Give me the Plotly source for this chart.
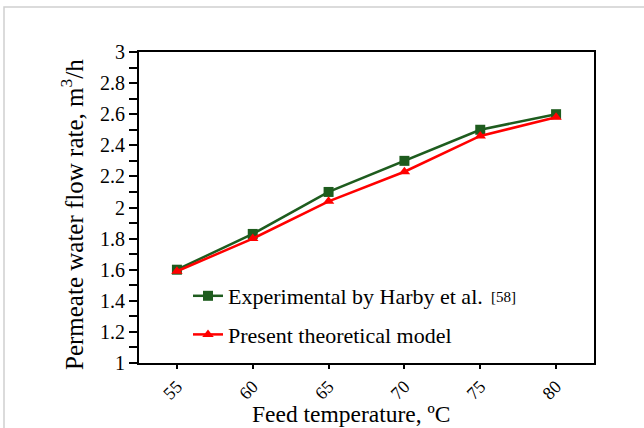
import plotly.graph_objects as go

temps = [55, 60, 65, 70, 75, 80]
experimental = [1.60, 1.83, 2.10, 2.30, 2.50, 2.60]
theoretical = [1.59, 1.80, 2.04, 2.23, 2.46, 2.58]
y_ticks = [1, 1.2, 1.4, 1.6, 1.8, 2, 2.2, 2.4, 2.6, 2.8, 3]

W, H = 644, 428
L, R, T, B = 139, 50, 52, 65
pw, ph = W - L - R, H - T - B


def px(x):
    return (x - L) / pw


def py(y):
    return (H - B - y) / ph


font = "Liberation Serif, Times New Roman, serif"

fig = go.Figure()
fig.add_trace(go.Scatter(
    x=temps, y=experimental, mode="lines+markers",
    name="Experimental by Harby et al.", legendgroup="a",
    line=dict(color="#1e5c1e", width=2.5),
    marker=dict(symbol="square", size=10, color="#1e5c1e"),
))
fig.add_trace(go.Scatter(
    x=temps, y=theoretical, mode="lines+markers",
    name="Present theoretical model", legendgroup="b",
    line=dict(color="#ff0000", width=2.5),
    marker=dict(symbol="triangle-up", size=10, color="#ff0000"),
))

fig.update_layout(
    width=W, height=H,
    margin=dict(l=L, r=R, t=T, b=B),
    paper_bgcolor="white", plot_bgcolor="white",
    font=dict(family=font, color="black", size=16),
    showlegend=True,
    legend=dict(x=px(188), y=py(275), xanchor="left", yanchor="top",
                bgcolor="rgba(0,0,0,0)", font=dict(size=22, family=font),
                tracegroupgap=7, traceorder="grouped"),
    xaxis=dict(
        range=[52.5, 82.5], tickvals=temps, ticktext=[str(t) for t in temps],
        tickangle=-45, ticks="outside", ticklen=4, tickwidth=1.5, tickcolor="black",
        showline=True, linecolor="black", linewidth=2, mirror=True,
        showgrid=False, zeroline=False, automargin=False,
        tickfont=dict(size=18, family=font),
    ),
    yaxis=dict(
        range=[1, 3], tickvals=y_ticks, ticktext=[f"{v:g}" for v in y_ticks],
        ticks="outside", ticklen=8, tickwidth=1.5, tickcolor="black",
        minor=dict(dtick=0.1, ticks="outside", ticklen=8, tickwidth=1.5, tickcolor="black", showgrid=False),
        showline=True, linecolor="black", linewidth=2, mirror=True,
        showgrid=False, zeroline=False, automargin=False,
        tickfont=dict(size=20, family=font),
    ),
)

# axis titles
fig.add_annotation(
    xref="paper", yref="paper", x=px(72), y=py(215),
    xanchor="center", yanchor="middle", textangle=-90, showarrow=False,
    text="Permeate water flow rate, m<sup>3</sup>/h",
    font=dict(size=25, family=font, color="black"),
)
fig.add_annotation(
    xref="paper", yref="paper", x=px(351), y=py(414),
    xanchor="center", yanchor="middle", showarrow=False,
    text="Feed temperature, ºC",
    font=dict(size=23.5, family=font, color="black"),
)

fig.add_annotation(
    xref="paper", yref="paper", x=px(489), y=py(297),
    xanchor="left", yanchor="middle", text="[58]", showarrow=False,
    font=dict(size=15, family=font, color="black"),
)

# outer light gray frame
fig.add_shape(type="rect", xref="paper", yref="paper",
              x0=px(4), x1=px(W + 60),
              y0=py(H + 60), y1=py(7),
              line=dict(color="#d0d0d0", width=1.5), layer="below")

fig.write_html("out.html", config={"displayModeBar": False},
               post_script="document.body.style.margin='0';")
